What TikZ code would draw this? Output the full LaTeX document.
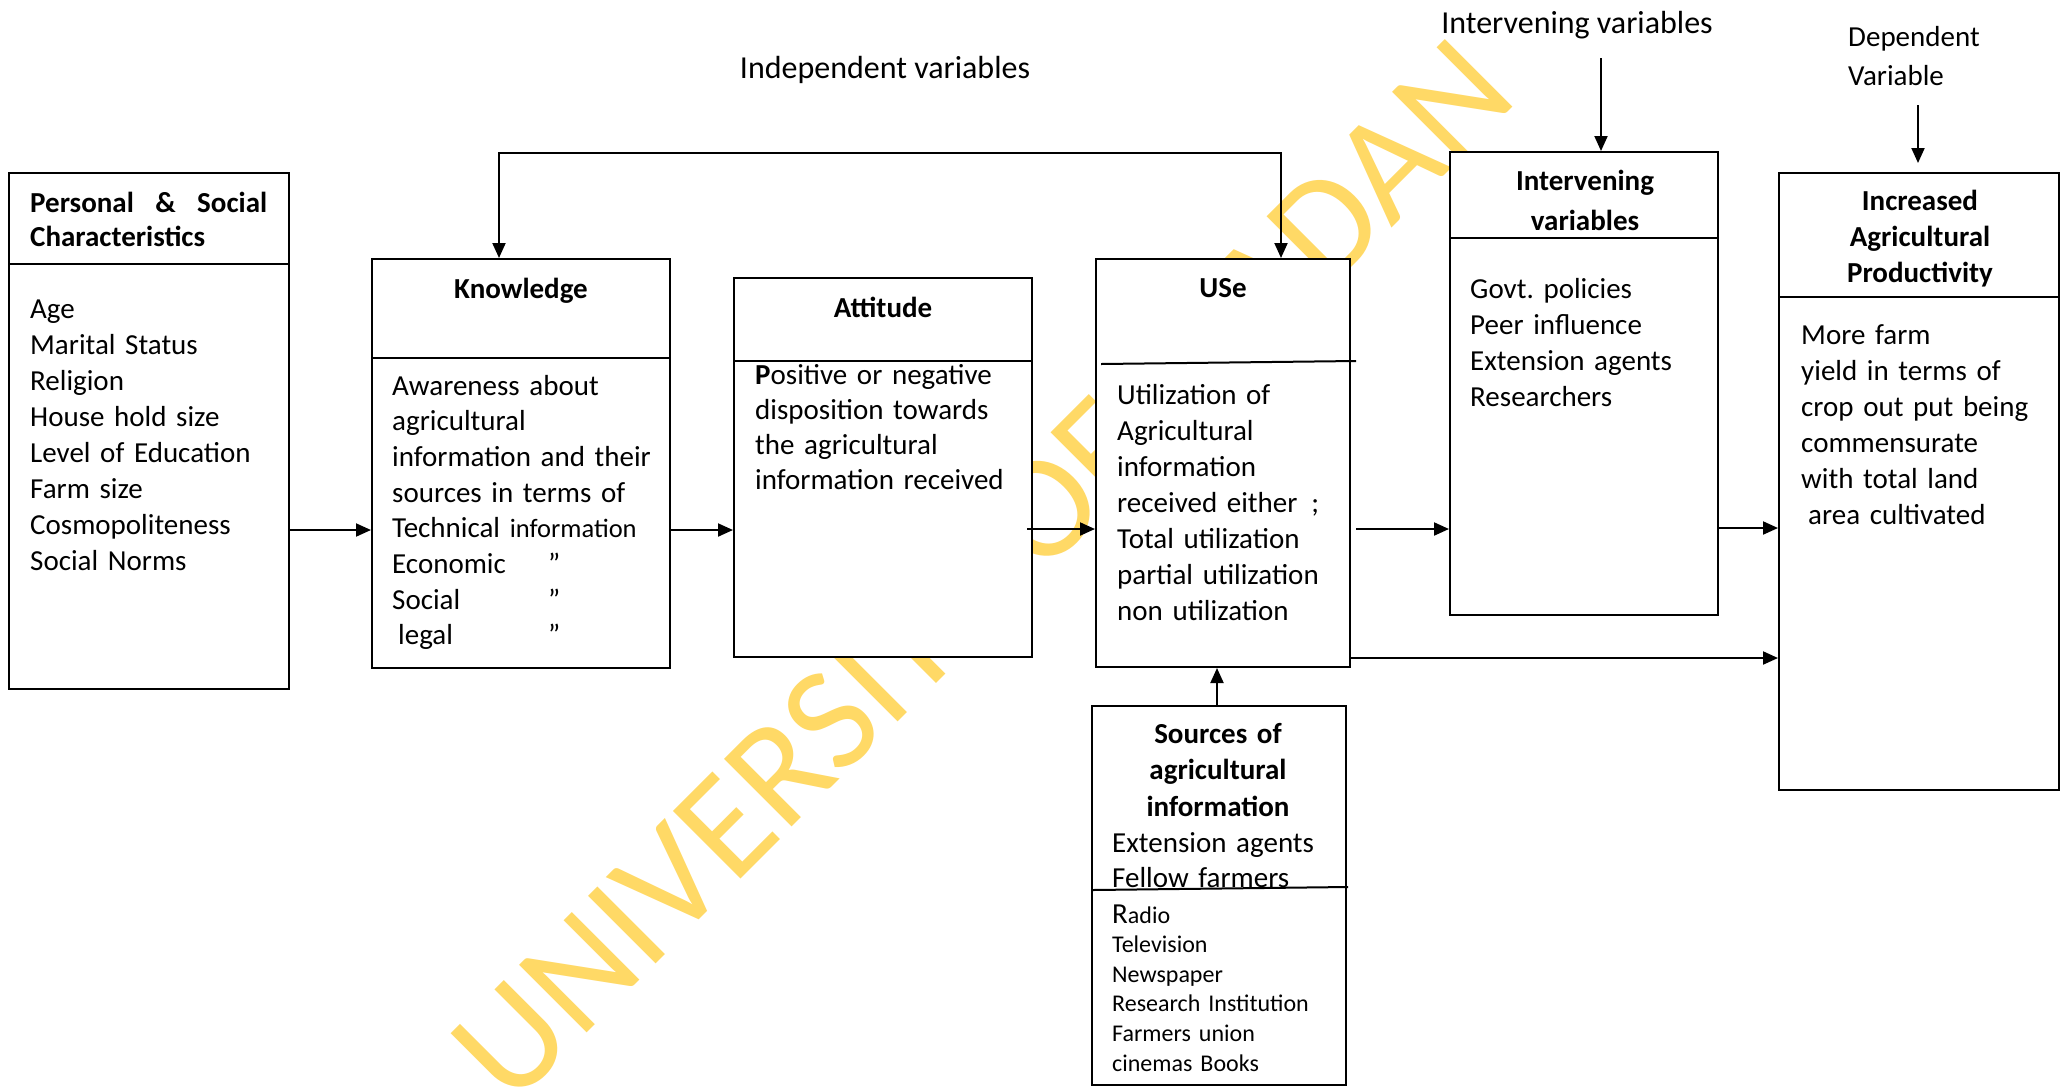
\documentclass[tikz,border=0pt]{standalone}
\usepackage{fontspec}
\setmainfont{Carlito}
\usetikzlibrary{arrows.meta}
\definecolor{wm}{RGB}{255,217,102}
\newcommand\myfs[2]{\fontsize{#1}{#2}\selectfont}
\frenchspacing
\begin{document}
\begin{tikzpicture}[x=1pt,y=-1pt,
  >={Triangle[length=15pt,width=13pt]},
  box/.style={draw, line width=2pt, fill=white, rectangle, inner sep=0pt},
  ln/.style={line width=2pt},
  arr/.style={line width=2pt,->},
  body/.style={inner sep=0pt, anchor=base west, align=left, text width=#1, font=\myfs{29}{36}},
  body/.default=300pt,
  head/.style={inner sep=0pt, anchor=base, align=center, text width=#1, font=\bfseries\myfs{29}{36}},
  head/.default=260pt,
  small/.style={inner sep=0pt, anchor=base west, align=left, text width=240pt, font=\myfs{24}{29.6}},
  toplabel/.style={inner sep=0pt, anchor=base, font=\myfs{32}{36}},
]
\useasboundingbox (0,0) rectangle (2069,1088);
\fill[white] (0,0) rectangle (2069,1088);

% watermark
\node[rotate=45, text=wm, inner sep=0pt, font=\myfs{149}{149}] (wmark) at (982,570) {UNIVERSITY OF IBADAN};

% boxes
\node[box, minimum width=280pt, minimum height=516pt] (pers) at (149,431) {};
\node[box, minimum width=298pt, minimum height=409pt] (know) at (521,463.5) {};
\node[box, minimum width=298pt, minimum height=379pt] (att) at (883,467.5) {};
\node[box, minimum width=254pt, minimum height=408pt] (use) at (1223,463) {};
\node[box, minimum width=268pt, minimum height=463pt] (iv) at (1584,383.5) {};
\node[box, minimum width=280pt, minimum height=617pt] (incr) at (1919,481.5) {};
\node[box, minimum width=254pt, minimum height=379pt] (src) at (1219,895.5) {};

% dividers
\draw[ln] (pers.west |- 0,264) -- (pers.east |- 0,264);
\draw[ln] (know.west |- 0,358) -- (know.east |- 0,358);
\draw[ln] (att.west |- 0,361) -- (att.east |- 0,361);
\draw[ln] (1101,364) -- (1356,361);
\draw[ln] (iv.west |- 0,238) -- (iv.east |- 0,238);
\draw[ln] (incr.west |- 0,297) -- (incr.east |- 0,297);
\draw[ln] (1093,890) -- (1348,887);

% texts
\node[body=240pt, font=\bfseries\myfs{29}{34}] (persh) at (30,212)
  {\makebox[237pt]{Personal\hfill\&\hfill Social}\\Characteristics};
\node[body] (persb) at (30,318)
  {Age\\Marital Status\\Religion\\House hold size\\Level of Education\\Farm size\\Cosmopoliteness\\Social Norms};

\node[head] (knowh) at (521,298) {Knowledge};
\node[body, font=\myfs{29}{35.7}] (knowb) at (392,395)
  {Awareness about\\agricultural\\information and their\\sources in terms of\\Technical {\myfs{26.5}{35.7}information}\\
   \makebox[156pt][l]{Economic}”\\\makebox[156pt][l]{Social}”\\\makebox[156pt][l]{\hspace{6pt}legal}”};

\node[head] (atth) at (883,317) {Attitude};
\node[body, font=\myfs{29}{35.3}] (attb) at (755,384)
  {\textbf{P}ositive or negative\\disposition towards\\the agricultural\\information received};

\node[head] (useh) at (1223,297) {USe};
\node[body] (useb) at (1117,404)
  {Utilization of\\Agricultural\\information\\received either\hspace{14pt};\\Total utilization\\partial utilization\\non utilization};

\node[head, font=\bfseries\myfs{29}{40}] (ivh) at (1585,190) {Intervening\\variables};
\node[body] (ivb) at (1470,298) {Govt. policies\\Peer influence\\Extension agents\\Researchers};

\node[head] (incrh) at (1920,210) {Increased\\Agricultural\\Productivity};
\node[body] (incrb) at (1801,344)
  {More farm\\yield in terms of\\crop out put being\\commensurate\\with total land\\\hspace{7pt}area cultivated};

\node[head, font=\bfseries\myfs{29}{36.5}] (srch) at (1218,743) {Sources of\\agricultural\\information};
\node[body, font=\myfs{29}{35}] (srcb) at (1112,852) {Extension agents\\Fellow farmers};
\node[small] (srcl) at (1112,923)
  {{\myfs{29}{29.6}R}adio\\Television\\Newspaper\\Research Institution\\Farmers union\\cinemas Books};

\node[toplabel] (indep) at (885,78) {Independent variables};
\node[toplabel] (ivlab) at (1577,33) {Intervening variables};
\node[body=200pt, font=\myfs{29}{39}] (deplab) at (1848,46) {Dependent\\Variable};

% connectors
\draw[arr] (pers.east |- 0,530) -- (know.west |- 0,530);
\draw[arr] (know.east |- 0,530) -- (att.west |- 0,530);
\draw[arr, shorten <=-6pt] (att.east |- 0,529) -- (use.west |- 0,529);
\draw[arr, shorten <=5pt] (use.east |- 0,529) -- (iv.west |- 0,529);
\draw[arr] (iv.east |- 0,528) -- (incr.west |- 0,528);
\draw[arr] (use.east |- 0,658) -- (incr.west |- 0,658);
\draw[arr] (src.north -| 1217,0) -- (use.south -| 1217,0);
\coordinate (lk) at (499,153);
\coordinate (lu) at (1281,153);
\draw[ln,<->] (know.north -| lk) -- (lk) -- (lu) -- (use.north -| lu);
\coordinate (ivs) at (1601,58);
\draw[arr] (ivs) -- (iv.north -| ivs);
\coordinate (deps) at (1918,105);
\draw[arr, shorten >=9pt] (deps) -- (incr.north -| deps);
\end{tikzpicture}
\end{document}
